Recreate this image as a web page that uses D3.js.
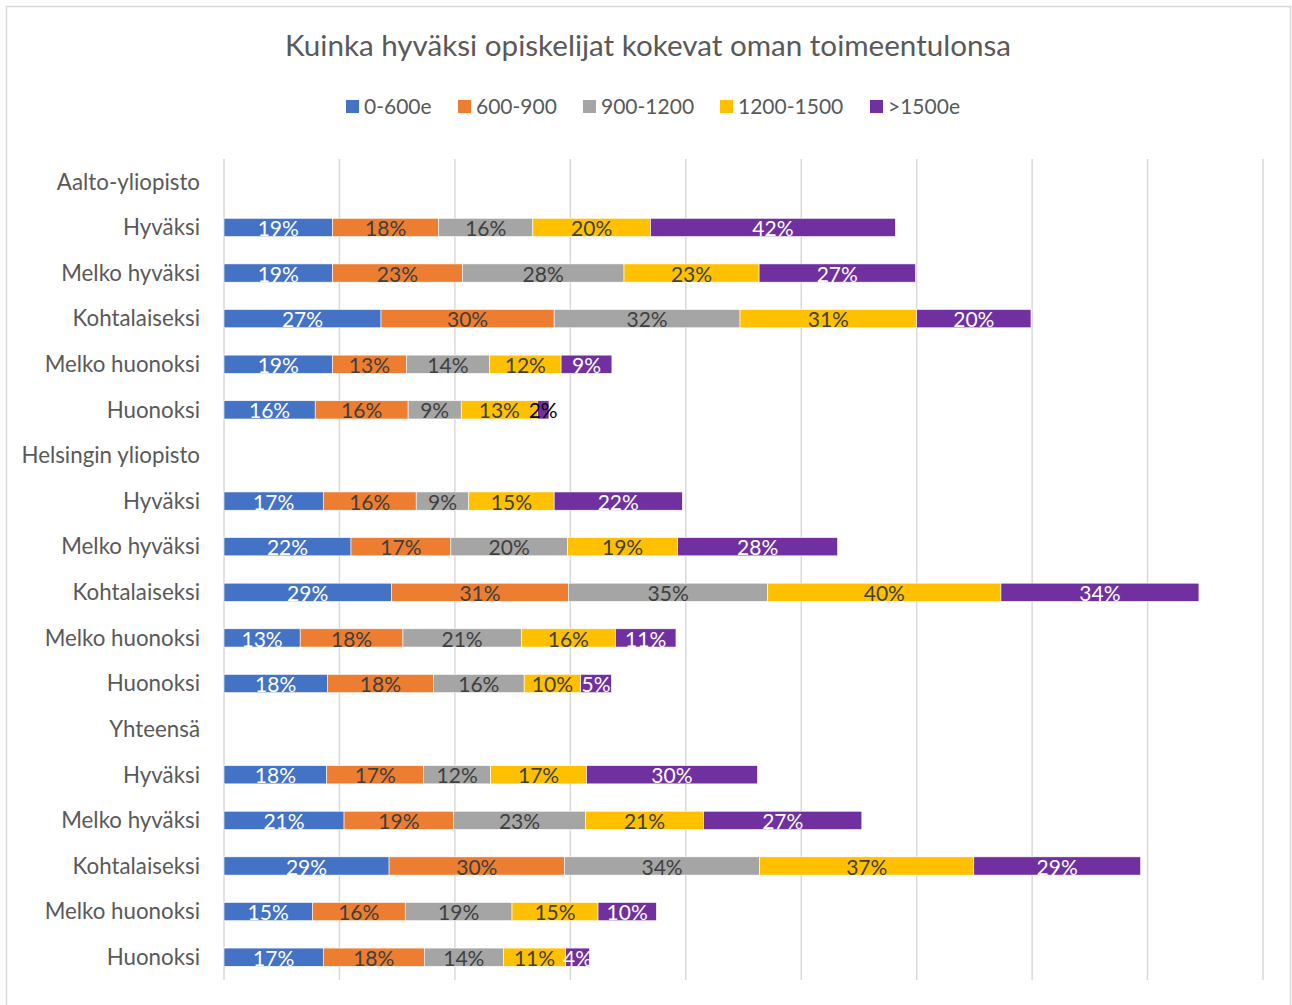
<!DOCTYPE html>
<html>
<head>
<meta charset="utf-8">
<script src="https://cdn.jsdelivr.net/npm/d3@7.9.0/dist/d3.min.js"></script>
<style>
  body { margin: 0; background: #fff; }
  text { font-family: Lato, "Open Sans", sans-serif; }
</style>
</head>
<body>
<svg id="chart" width="1292" height="1005"></svg>
<script>
// categories, top to bottom (group headers have no bars)
let categories = [
  'Aalto-yliopisto', 'Hyväksi', 'Melko hyväksi', 'Kohtalaiseksi', 'Melko huonoksi', 'Huonoksi',
  'Helsingin yliopisto', 'Hyväksi', 'Melko hyväksi', 'Kohtalaiseksi', 'Melko huonoksi', 'Huonoksi',
  'Yhteensä', 'Hyväksi', 'Melko hyväksi', 'Kohtalaiseksi', 'Melko huonoksi', 'Huonoksi'
];
let seriesNames = ['0-600e', '600-900', '900-1200', '1200-1500', '>1500e'];
let colorsList = ['#4472C4', '#ED7D31', '#A5A5A5', '#FFC000', '#7030A0'];

// values per series (%), one per category; null for group header rows
let s0_600 =    [null, 18.8, 18.8, 27.2, 18.8, 15.8, null, 17.2, 22.0, 29.0, 13.2, 17.9, null, 17.8, 20.8, 28.6, 15.3, 17.2];
let s600_900 =  [null, 18.4, 22.5, 30.0, 12.8, 16.1, null, 16.1, 17.3, 30.7, 17.8, 18.4, null, 16.8, 19.0, 30.4, 16.1, 17.5];
let s900_1200 = [null, 16.3, 28.0, 32.2, 14.4, 9.2,  null, 9.1,  20.2, 34.5, 20.5, 15.7, null, 11.6, 22.8, 33.8, 18.5, 13.7];
let s1200_1500 =[null, 20.4, 23.4, 30.6, 12.4, 13.2, null, 14.8, 19.1, 40.4, 16.3, 9.8,  null, 16.6, 20.5, 37.1, 14.9, 10.8];
let s1500 =     [null, 42.4, 27.1, 19.8, 8.8,  2.0,  null, 22.2, 27.7, 34.3, 10.5, 5.3,  null, 29.6, 27.4, 28.9, 10.1, 4.1];
let xTicks = [0, 20, 40, 60, 80, 100, 120, 140, 160, 180];

let seriesValues = [s0_600, s600_900, s900_1200, s1200_1500, s1500];

let svg = d3.select('#chart');
let plotLeft = 224, plotRight = 1263, plotTop = 159, plotBottom = 980;

// outer border
svg.append('rect')
  .attr('x', 6.5).attr('y', 6.5)
  .attr('width', 1284).attr('height', 1010)
  .attr('fill', 'none').attr('stroke', '#d9d9d9').attr('stroke-width', 1.5);

let x = d3.scaleLinear().domain([0, 180]).range([plotLeft, plotRight]);
let rows = categories.map((c, i) => i);
let y = d3.scaleBand().domain(rows).range([plotTop, plotBottom]).paddingInner(0.6).paddingOuter(0.3);

// gridlines
svg.append('g')
  .selectAll('line')
  .data(xTicks)
  .join('line')
  .attr('x1', (d) => x(d)).attr('x2', (d) => x(d))
  .attr('y1', plotTop).attr('y2', plotBottom)
  .attr('stroke', '#d9d9d9').attr('stroke-width', 1.5);

// stacked data
let table = rows.map((i) => {
  let row = { idx: i };
  seriesNames.forEach((s, k) => { row[s] = seriesValues[k][i] || 0; });
  return row;
});
let stacked = d3.stack().keys(seriesNames)(table);
let colors = d3.scaleOrdinal().domain(seriesNames).range(colorsList);
let textColors = ['#ffffff', '#404040', '#404040', '#404040', '#ffffff'];

stacked.forEach((layer, k) => {
  let g = svg.append('g');
  let pts = layer.filter((d) => d.data[seriesNames[k]] > 0);
  g.selectAll('rect')
    .data(pts)
    .join('rect')
    .attr('x', (d) => x(d[0]))
    .attr('y', (d) => y(d.data.idx))
    .attr('width', (d) => x(d[1]) - x(d[0]))
    .attr('height', y.bandwidth())
    .attr('fill', colors(seriesNames[k]))
    .attr('stroke', '#fff').attr('stroke-width', 0.6);
  g.selectAll('text')
    .data(pts)
    .join('text')
    .attr('x', (d) => (x(d[0]) + x(d[1])) / 2)
    .attr('y', (d) => y(d.data.idx) + y.bandwidth() - 0.5)
    .attr('text-anchor', 'middle')
    .attr('font-size', 21)
    .attr('fill', (d) => d.data[seriesNames[k]] < 3 ? '#000' : textColors[k])
    .text((d) => Math.round(d.data[seriesNames[k]]) + '%');
});

// category labels
svg.append('g')
  .selectAll('text')
  .data(rows)
  .join('text')
  .attr('x', 200)
  .attr('y', (d) => y(d) + y.bandwidth() / 2)
  .attr('dy', '0.35em')
  .attr('text-anchor', 'end')
  .attr('font-size', 22.3)
  .attr('fill', '#595959')
  .text((d) => categories[d]);

// title
svg.append('text')
  .attr('x', 648).attr('y', 56)
  .attr('text-anchor', 'middle')
  .attr('font-size', 29.6)
  .attr('fill', '#595959')
  .text('Kuinka hyväksi opiskelijat kokevat oman toimeentulonsa');

// legend
let legendX = [346, 458, 583, 720, 870];
let legend = svg.append('g');
seriesNames.forEach((s, k) => {
  legend.append('rect')
    .attr('x', legendX[k]).attr('y', 100)
    .attr('width', 13).attr('height', 13)
    .attr('fill', colorsList[k]);
  legend.append('text')
    .attr('x', legendX[k] + 18).attr('y', 107)
    .attr('dy', '0.35em')
    .attr('font-size', 21)
    .attr('fill', '#595959')
    .text(s);
});
</script>
</body>
</html>
